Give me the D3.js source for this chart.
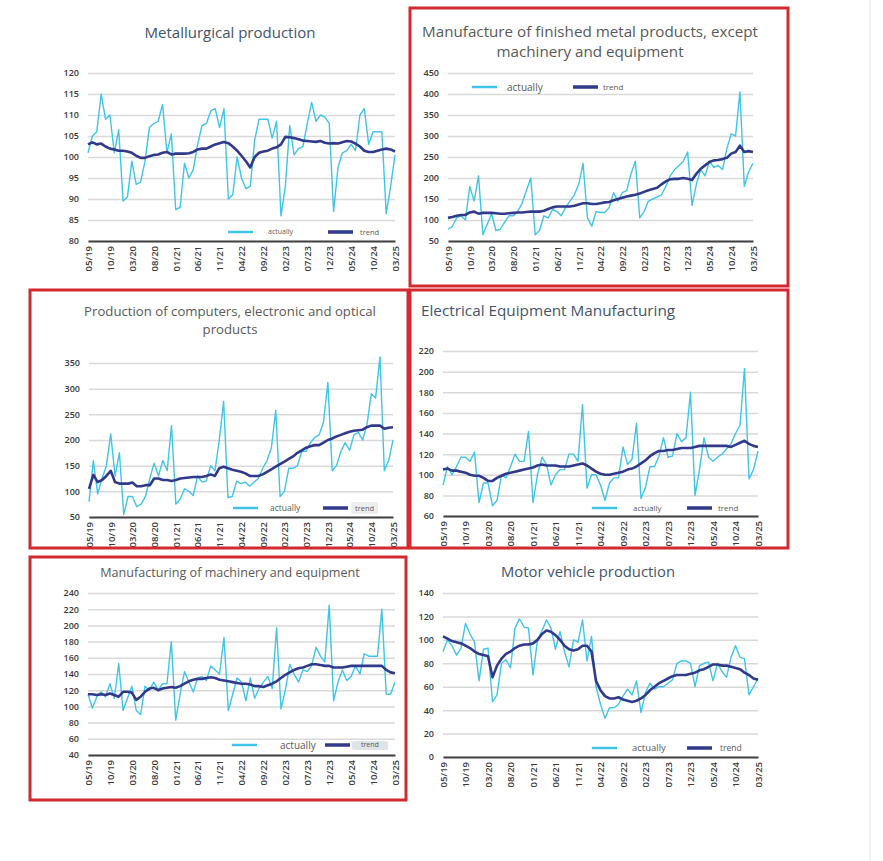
<!DOCTYPE html>
<html>
<head>
<meta charset="utf-8">
<script src="https://cdn.jsdelivr.net/npm/d3@7"></script>
<style>
  body { margin: 0; background: #fff; }
</style>
</head>
<body>
<svg id="chart" width="883" height="861"></svg>
<script>
// month labels every 5 months, series run monthly 05/19 .. 03/25 (71 points)
const tickLabels = ['05/19', '10/19', '03/20', '08/20', '01/21', '06/21', '11/21', '04/22',
	'09/22', '02/23', '07/23', '12/23', '05/24', '10/24', '03/25'];

const metalActual = [101, 105, 106, 115, 109, 110, 101, 106.5, 89.5, 90.5,
	99, 93.5, 94, 99, 107, 108, 108.5, 112.5, 101, 105.5,
	87.5, 88, 98.5, 95, 97, 103, 107.5, 108, 111, 111.5,
	107, 111.5, 90, 91, 100, 95, 92.5, 93, 104, 109,
	109, 109, 104.5, 108.5, 86, 93, 107.5, 100.5, 102, 102.5,
	108, 113, 108.5, 110, 109.5, 108, 87, 97.5, 101, 101.5,
	103, 101.5, 110, 111.5, 103, 106, 106, 106, 86.5, 93,
	100.5];
const metalTrend = [103, 103.5, 103, 103.2, 102.5, 102, 101.8, 101.5, 101.5, 101.3,
	101, 100.3, 99.8, 99.8, 100.2, 100.5, 100.6, 101, 101.2, 100.6,
	100.8, 100.8, 100.8, 100.9, 101.2, 101.8, 102, 102, 102.5, 103,
	103.3, 103.6, 103.3, 102.5, 101.5, 100.3, 99, 97.5, 100, 101,
	101.3, 101.5, 102, 102.3, 103, 104.8, 104.7, 104.5, 104.2, 103.9,
	103.8, 103.7, 103.6, 103.8, 103.4, 103.2, 103.3, 103.2, 103.5, 103.8,
	103.7, 103.2, 102.5, 101.5, 101.2, 101.2, 101.5, 101.8, 102, 101.8,
	101.3];

const finActual = [78, 85, 105, 110, 100, 180, 145, 205, 65, 90,
	115, 75, 78, 95, 110, 110, 120, 140, 170, 200,
	65, 75, 110, 105, 125, 120, 110, 130, 145, 160,
	185, 235, 105, 85, 120, 118, 118, 130, 165, 145,
	165, 170, 210, 240, 105, 120, 145, 150, 155, 160,
	180, 205, 220, 230, 240, 262, 135, 185, 220, 205,
	240, 225, 230, 220, 270, 305, 300, 405, 180, 215,
	235];
const finTrend = [105, 107, 110, 112, 112, 118, 120, 115, 117, 117,
	117, 116, 115, 115, 116, 117, 118, 118, 119, 120,
	120, 120, 122, 126, 130, 132, 132, 132, 132, 134,
	137, 140, 140, 138, 138, 140, 142, 143, 147, 150,
	153, 156, 158, 160, 163, 167, 171, 174, 177, 185,
	192, 197, 198, 198, 200, 198, 195, 210, 222, 230,
	238, 242, 243, 245, 248, 258, 262, 277, 262, 264,
	262];

const compActual = [80, 160, 95, 125, 150, 212, 130, 175, 55, 90,
	90, 70, 75, 90, 125, 155, 130, 160, 140, 228,
	75, 85, 105, 100, 92, 130, 118, 120, 150, 140,
	200, 275, 88, 90, 120, 115, 118, 110, 118, 125,
	145, 160, 185, 258, 90, 100, 145, 145, 150, 178,
	178, 195, 205, 210, 235, 312, 140, 150, 178, 195,
	180, 210, 215, 200, 230, 290, 282, 362, 140, 160,
	200];
const compTrend = [105, 132, 118, 122, 130, 140, 118, 115, 115, 115,
	117, 110, 110, 112, 112, 125, 125, 122, 122, 120,
	122, 125, 126, 127, 128, 128, 128, 130, 133, 130,
	145, 148, 145, 142, 140, 138, 135, 130, 130, 130,
	133, 138, 143, 148, 153, 158, 163, 168, 175, 180,
	185, 188, 190, 190, 195, 200, 203, 207, 210, 213,
	216, 218, 219, 220, 225, 228, 228, 228, 222, 224,
	225];

const elecActual = [90, 108, 100, 108, 117, 117, 113, 122, 73, 92,
	92, 70, 75, 100, 97, 108, 120, 113, 113, 142,
	73, 100, 117, 110, 90, 100, 105, 105, 120, 120,
	113, 168, 87, 100, 100, 90, 75, 92, 97, 97,
	127, 110, 115, 150, 77, 88, 108, 108, 118, 136,
	117, 118, 140, 132, 136, 180, 80, 105, 136, 117,
	113, 117, 120, 125, 130, 140, 148, 203, 96, 105,
	123];
const elecTrend = [105, 106, 104, 104, 103, 102, 100, 99, 99, 97,
	94, 94, 97, 99, 101, 102, 103, 104, 105, 106,
	107, 109, 110, 109, 109, 109, 108, 108, 108, 109,
	110, 111, 109, 106, 103, 101, 100, 100, 101, 102,
	103, 105, 106, 108, 111, 114, 118, 121, 123, 123,
	124, 124, 125, 126, 126, 126, 127, 128, 128, 128,
	128, 128, 128, 128, 127, 129, 131, 133, 130, 128,
	127];

const machActual = [115, 98, 112, 118, 112, 128, 110, 153, 95, 110,
	125, 95, 90, 125, 120, 130, 120, 128, 128, 180,
	83, 115, 143, 130, 118, 135, 137, 132, 150, 145,
	140, 185, 95, 115, 135, 130, 107, 135, 110, 122,
	130, 137, 122, 197, 97, 120, 152, 140, 130, 145,
	143, 150, 173, 162, 155, 225, 107, 130, 145, 132,
	137, 150, 140, 165, 162, 162, 162, 220, 115, 115,
	130];
const machTrend = [115, 115, 114, 115, 114, 116, 114, 112, 118, 118,
	117, 108, 112, 118, 122, 123, 120, 122, 123, 124,
	123, 125, 128, 131, 133, 134, 134, 135, 136, 135,
	133, 132, 131, 130, 129, 128, 128, 127, 125, 125,
	124, 126, 128, 131, 135, 139, 142, 145, 147, 148,
	150, 152, 152, 151, 150, 150, 148, 148, 148, 149,
	150, 150, 150, 150, 150, 150, 150, 150, 145, 142,
	141];

const carActual = [90, 100, 95, 87, 93, 114, 105, 98, 65, 92,
	93, 47, 53, 80, 83, 76, 110, 118, 111, 110,
	70, 100, 108, 117, 110, 92, 107, 90, 77, 100,
	98, 117, 82, 103, 60, 45, 33, 42, 42, 45,
	52, 58, 53, 65, 38, 55, 63, 58, 60, 60,
	63, 66, 80, 82, 82, 80, 60, 78, 80, 81,
	65, 80, 73, 68, 85, 95, 85, 84, 53, 60,
	67];
const carTrend = [103, 101, 99, 98, 97, 95, 93, 90, 88, 87,
	86, 68, 78, 84, 88, 90, 93, 95, 96, 96,
	97, 100, 105, 108, 107, 104, 100, 95, 92, 91,
	92, 95, 95, 90, 65, 57, 52, 50, 50, 51,
	49, 48, 47, 48, 50, 53, 57, 60, 63, 65,
	67, 69, 70, 70, 70, 71, 72, 74, 75, 77,
	79, 79, 78, 78, 77, 76, 75, 72, 70, 67,
	66];

const ACTUAL = '#3fc5e9';
const TREND = '#30398a';
const SLATE = '#44546a';
const GREY = '#595959';
const RED = '#d22a2f';

const panels = [
	{
		actual: metalActual, trend: metalTrend, domain: [80, 120], step: 5,
		x0: 88, x1: 395, yt: 73, yb: 241,
		title: ['Metallurgical production'], tx: 230, ty: 38, tfs: 15, lh: 0, tfill: SLATE, anchor: 'middle',
		leg: { y: 232, a: [228, 253], ax: 268, afs: 7, t: [328, 353], tx: 360, tfs: 7.5 },
	},
	{
		actual: finActual, trend: finTrend, domain: [50, 450], step: 50,
		x0: 448, x1: 753, yt: 73, yb: 241,
		title: ['Manufacture of finished metal products, except', 'machinery and equipment'],
		tx: 590, ty: 37, tfs: 15.2, lh: 19.5, tfill: GREY, anchor: 'middle',
		border: [410, 8, 378, 278],
		leg: { y: 87, a: [472, 497], ax: 507, afs: 10, t: [573, 598], tx: 603, tfs: 8 },
	},
	{
		actual: compActual, trend: compTrend, domain: [50, 350], step: 50,
		x0: 89, x1: 393, yt: 363, yb: 517,
		title: ['Production of computers, electronic and optical', 'products'],
		tx: 230, ty: 316, tfs: 13.2, lh: 17.5, tfill: GREY, anchor: 'middle',
		border: [30, 290, 378, 258],
		leg: { y: 508, a: [233, 258], ax: 270, afs: 8.5, t: [323, 348], tx: 355, tfs: 7.5, box: [351, 502, 27, 12, '#eeeeee'] },
	},
	{
		actual: elecActual, trend: elecTrend, domain: [60, 220], step: 20,
		x0: 443, x1: 758, yt: 351, yb: 516,
		title: ['Electrical Equipment Manufacturing'], tx: 421, ty: 316, tfs: 15.3, lh: 0, tfill: SLATE, anchor: 'start',
		border: [410, 290, 378, 258],
		leg: { y: 508, a: [592, 617], ax: 633, afs: 8, t: [687, 712], tx: 718, tfs: 8 },
	},
	{
		actual: machActual, trend: machTrend, domain: [40, 240], step: 20,
		x0: 88, x1: 395, yt: 593, yb: 755,
		title: ['Manufacturing of machinery and equipment'], tx: 230, ty: 577, tfs: 12.6, lh: 0, tfill: GREY, anchor: 'middle',
		border: [30, 557, 376, 243],
		leg: { y: 745, a: [232, 257], ax: 280, afs: 10, t: [325, 350], tx: 361, tfs: 7, box: [352, 741, 36, 9, '#dfe4e8'] },
	},
	{
		actual: carActual, trend: carTrend, domain: [0, 140], step: 20,
		x0: 443, x1: 758, yt: 593, yb: 757,
		title: ['Motor vehicle production'], tx: 588, ty: 577, tfs: 14.8, lh: 0, tfill: SLATE, anchor: 'middle',
		leg: { y: 748, a: [592, 617], ax: 632, afs: 9.5, t: [687, 712], tx: 720, tfs: 8.5 },
	},
];

const svg = d3.select('#chart');

// thin grey edge on the right of the page
svg.append('line')
	.attr('x1', 870).attr('x2', 870).attr('y1', 0).attr('y2', 861)
	.attr('stroke', '#e3e3e3').attr('stroke-width', 1);

const drawPanel = p => {
	const g = svg.append('g');

	const x = d3.scaleLinear().domain([0, p.actual.length - 1]).range([p.x0, p.x1]);
	const y = d3.scaleLinear().domain(p.domain).range([p.yb, p.yt]);
	const yTicks = d3.range(p.domain[0], p.domain[1] + p.step / 2, p.step);
	const xTicks = tickLabels.map((_, i) => i * 5);

	// grid and y labels
	g.append('g')
		.attr('transform', `translate(${p.x0},0)`)
		.call(d3.axisLeft(y).tickValues(yTicks).tickSize(-(p.x1 - p.x0)).tickPadding(9))
		.call(a => a.select('.domain').remove())
		.call(a => a.selectAll('.tick line').attr('stroke', '#d9d9d9').attr('stroke-width', 1.5))
		.call(a => a.selectAll('.tick text')
			.attr('fill', '#3a3a3a')
			.style('font', '600 9px "Open Sans", sans-serif'));

	// x axis with rotated month labels
	g.append('g')
		.attr('transform', `translate(0,${p.yb})`)
		.call(d3.axisBottom(x).tickValues(xTicks).tickFormat((d, i) => tickLabels[i]).tickSize(0).tickSizeOuter(0))
		.call(a => a.select('.domain').attr('stroke', '#404040').attr('stroke-width', 2))
		.call(a => a.selectAll('.tick text')
			.attr('transform', 'rotate(-90)')
			.attr('x', -5).attr('y', 0).attr('dy', '0.35em')
			.style('text-anchor', 'end')
			.attr('fill', '#3a3a3a')
			.style('font', '600 9.5px "Open Sans", sans-serif'));

	const line = d3.line().x((d, i) => x(i)).y(d => y(d));

	g.append('path')
		.datum(p.actual)
		.attr('d', line)
		.attr('fill', 'none')
		.attr('stroke', ACTUAL)
		.attr('stroke-width', 1.4)
		.attr('stroke-linejoin', 'round');

	g.append('path')
		.datum(p.trend)
		.attr('d', line)
		.attr('fill', 'none')
		.attr('stroke', TREND)
		.attr('stroke-width', 2.6)
		.attr('stroke-linejoin', 'round');

	// title, one text per line
	p.title.forEach((t, i) => {
		g.append('text')
			.attr('x', p.tx).attr('y', p.ty + i * p.lh)
			.attr('text-anchor', p.anchor)
			.attr('fill', p.tfill)
			.style('font', `${p.tfs}px "Open Sans", sans-serif`)
			.text(t);
	});

	// legend
	const l = p.leg;
	g.append('line')
		.attr('x1', l.a[0]).attr('x2', l.a[1]).attr('y1', l.y).attr('y2', l.y)
		.attr('stroke', ACTUAL).attr('stroke-width', 2.5);
	g.append('text')
		.attr('x', l.ax).attr('y', l.y).attr('dy', '0.35em')
		.attr('fill', '#595959')
		.style('font', `${l.afs}px "Open Sans", sans-serif`)
		.text('actually');
	g.append('line')
		.attr('x1', l.t[0]).attr('x2', l.t[1]).attr('y1', l.y).attr('y2', l.y)
		.attr('stroke', TREND).attr('stroke-width', 3.5);
	if (l.box) {
		g.append('rect')
			.attr('x', l.box[0]).attr('y', l.box[1]).attr('width', l.box[2]).attr('height', l.box[3])
			.attr('rx', 2).attr('fill', l.box[4]);
	}
	g.append('text')
		.attr('x', l.tx).attr('y', l.y).attr('dy', '0.35em')
		.attr('fill', '#595959')
		.style('font', `${l.tfs}px "Open Sans", sans-serif`)
		.text('trend');

	if (p.border) {
		g.append('rect')
			.attr('x', p.border[0]).attr('y', p.border[1])
			.attr('width', p.border[2]).attr('height', p.border[3])
			.attr('fill', 'none').attr('stroke', RED).attr('stroke-width', 3);
	}
};

panels.forEach(drawPanel);
</script>
</body>
</html>
